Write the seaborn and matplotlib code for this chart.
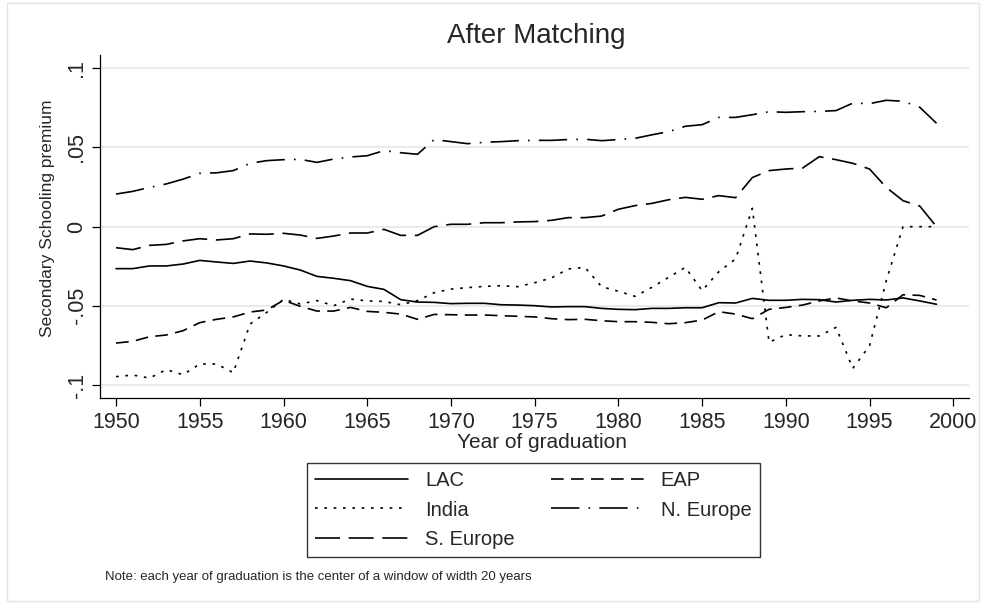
import numpy as np
import pandas as pd
import matplotlib
matplotlib.use("Agg")
import matplotlib.pyplot as plt
from matplotlib.patches import Rectangle
import seaborn as sns

years = list(range(1950, 2000))

lac = [-0.0265, -0.0265, -0.0248, -0.0248, -0.0236, -0.0213, -0.0223, -0.0232, -0.0217, -0.0229,
       -0.0248, -0.0274, -0.0314, -0.0326, -0.0341, -0.0377, -0.0396, -0.0461, -0.0476, -0.0478,
       -0.0486, -0.0484, -0.0484, -0.0493, -0.0495, -0.0499, -0.0507, -0.0505, -0.0505, -0.0516,
       -0.0522, -0.0524, -0.0516, -0.0516, -0.0512, -0.0512, -0.0480, -0.0482, -0.0453, -0.0465,
       -0.0465, -0.0459, -0.0461, -0.0476, -0.0465, -0.0459, -0.0463, -0.0450, -0.0469, -0.0490]

eap = [-0.0735, -0.0724, -0.0695, -0.0684, -0.0657, -0.0606, -0.0585, -0.0570, -0.0539, -0.0526,
       -0.0465, -0.0503, -0.0533, -0.0533, -0.0510, -0.0535, -0.0541, -0.0552, -0.0585, -0.0554,
       -0.0556, -0.0558, -0.0558, -0.0562, -0.0566, -0.0570, -0.0581, -0.0587, -0.0585, -0.0594,
       -0.0600, -0.0600, -0.0604, -0.0613, -0.0606, -0.0590, -0.0537, -0.0552, -0.0581, -0.0522,
       -0.0510, -0.0495, -0.0469, -0.0450, -0.0469, -0.0482, -0.0512, -0.0430, -0.0434, -0.0463]

india = [-0.0947, -0.0937, -0.0956, -0.0903, -0.0935, -0.0867, -0.0867, -0.0922, -0.0615, -0.0541,
         -0.0459, -0.0488, -0.0467, -0.0499, -0.0457, -0.0469, -0.0472, -0.0493, -0.0467, -0.0417,
         -0.0394, -0.0385, -0.0377, -0.0373, -0.0379, -0.0354, -0.0324, -0.0267, -0.0257, -0.0379,
         -0.0408, -0.0440, -0.0383, -0.0320, -0.0257, -0.0404, -0.0284, -0.0204, 0.0116, -0.0730,
         -0.0682, -0.0690, -0.0690, -0.0636, -0.0895, -0.0752, -0.0341, 0.0000, 0.0000, 0.0000]

n_europe = [0.0206, 0.0223, 0.0248, 0.0270, 0.0300, 0.0337, 0.0340, 0.0354, 0.0400, 0.0417,
            0.0423, 0.0425, 0.0406, 0.0427, 0.0440, 0.0448, 0.0480, 0.0467, 0.0457, 0.0550,
            0.0537, 0.0524, 0.0533, 0.0537, 0.0543, 0.0545, 0.0545, 0.0550, 0.0552, 0.0543,
            0.0550, 0.0558, 0.0580, 0.0600, 0.0634, 0.0644, 0.0690, 0.0690, 0.0707, 0.0726,
            0.0722, 0.0726, 0.0728, 0.0733, 0.0780, 0.0777, 0.0798, 0.0792, 0.0754, 0.0653]

s_europe = [-0.0133, -0.0145, -0.0118, -0.0112, -0.0090, -0.0076, -0.0084, -0.0076, -0.0046, -0.0048,
            -0.0042, -0.0053, -0.0074, -0.0059, -0.0040, -0.0040, -0.0017, -0.0055, -0.0055, 0.0000,
            0.0015, 0.0015, 0.0025, 0.0025, 0.0030, 0.0032, 0.0040, 0.0057, 0.0057, 0.0067,
            0.0110, 0.0133, 0.0147, 0.0170, 0.0185, 0.0173, 0.0196, 0.0183, 0.0310, 0.0354,
            0.0364, 0.0370, 0.0442, 0.0423, 0.0400, 0.0364, 0.0248, 0.0164, 0.0130, 0.0000]

series_names = ["LAC", "EAP", "India", "N. Europe", "S. Europe"]
series_vals = [lac, eap, india, n_europe, s_europe]

y_ticks = [-0.1, -0.05, 0.0, 0.05, 0.1]
y_ticklabels = ["-.1", "-.05", "0", ".05", ".1"]
x_ticks = list(range(1950, 2001, 5))

df = pd.DataFrame({
    "year": years * len(series_names),
    "value": sum(series_vals, []),
    "region": sum([[n] * len(years) for n in series_names], []),
})

sns.set_theme(style="white")
plt.rcParams["font.family"] = ["Liberation Sans", "DejaVu Sans"]

fig = plt.figure(figsize=(9.86, 6.05), dpi=100)
ax = fig.add_axes([100 / 986, 1 - 397.7 / 605, 869 / 986, 342.7 / 605])

lw = 1.2
dashes = {
    "LAC": "",
    "EAP": (7.6, 4.4),
    "India": (1.6, 4.0),
    "N. Europe": (17, 5.5, 1.0, 5.5),
    "S. Europe": (15, 5.2),
}
palette = {n: "black" for n in series_names}

for yt in y_ticks:
    ax.axhline(yt, color="#e6e6e6", lw=1.2, zorder=0)

sns.lineplot(data=df, x="year", y="value", hue="region", style="region",
             palette=palette, dashes=dashes, hue_order=series_names,
             style_order=series_names, linewidth=lw, ax=ax, legend=True)

ax.set_xlim(1949.04, 2000.94)
ax.set_ylim(-0.108, 0.1084)
ax.set_xticks(x_ticks)
ax.set_yticks(y_ticks)
ax.set_yticklabels(y_ticklabels, rotation=90, va="center")
ax.tick_params(axis="both", which="both", direction="out", length=6, width=0.9,
               color="black", labelsize=15.5, left=True, bottom=True)
ax.tick_params(axis="y", pad=3)
ax.tick_params(axis="x", pad=4)
for s in ["top", "right"]:
    ax.spines[s].set_visible(False)
for s in ["left", "bottom"]:
    ax.spines[s].set_color("black")
    ax.spines[s].set_linewidth(0.9)
ax.set_xlabel("")
ax.set_ylabel("")
ax.grid(False)

# legend
handles, labels = ax.get_legend_handles_labels()
hmap = dict(zip(labels, handles))
order = ["LAC", "India", "S. Europe", "EAP", "N. Europe"]
if ax.legend_:
    ax.legend_.remove()
leg = fig.legend([hmap[o] for o in order], order, ncol=2,
                 loc="center", bbox_to_anchor=(533.5 / 986, 1 - 510 / 605),
                 fontsize=14.5, frameon=True, fancybox=False, edgecolor="black",
                 handlelength=4.6, handletextpad=0.85, columnspacing=1.8,
                 labelspacing=0.52, borderpad=0.42)
leg.get_frame().set_linewidth(1.0)
for line in leg.get_lines():
    line.set_linewidth(lw)

fig.text(536 / 986, 1 - 36 / 605, "After Matching", ha="center", va="center", fontsize=20)
fig.text(48 / 986, 1 - 218 / 605, "Secondary Schooling premium", rotation=90,
         ha="center", va="center", fontsize=12.5)
fig.text(542 / 986, 1 - 443 / 605, "Year of graduation", ha="center", va="center", fontsize=15)
fig.text(105 / 986, 1 - 577 / 605,
         "Note: each year of graduation is the center of a window of width 20 years",
         ha="left", va="center", fontsize=9.5)

fig.patches.append(Rectangle((7 / 986, 1 - 601 / 605), 972 / 986, 598 / 605,
                             transform=fig.transFigure, fill=False,
                             edgecolor="#e4e4e4", linewidth=1.0))

fig.savefig("out.png", dpi=100)
